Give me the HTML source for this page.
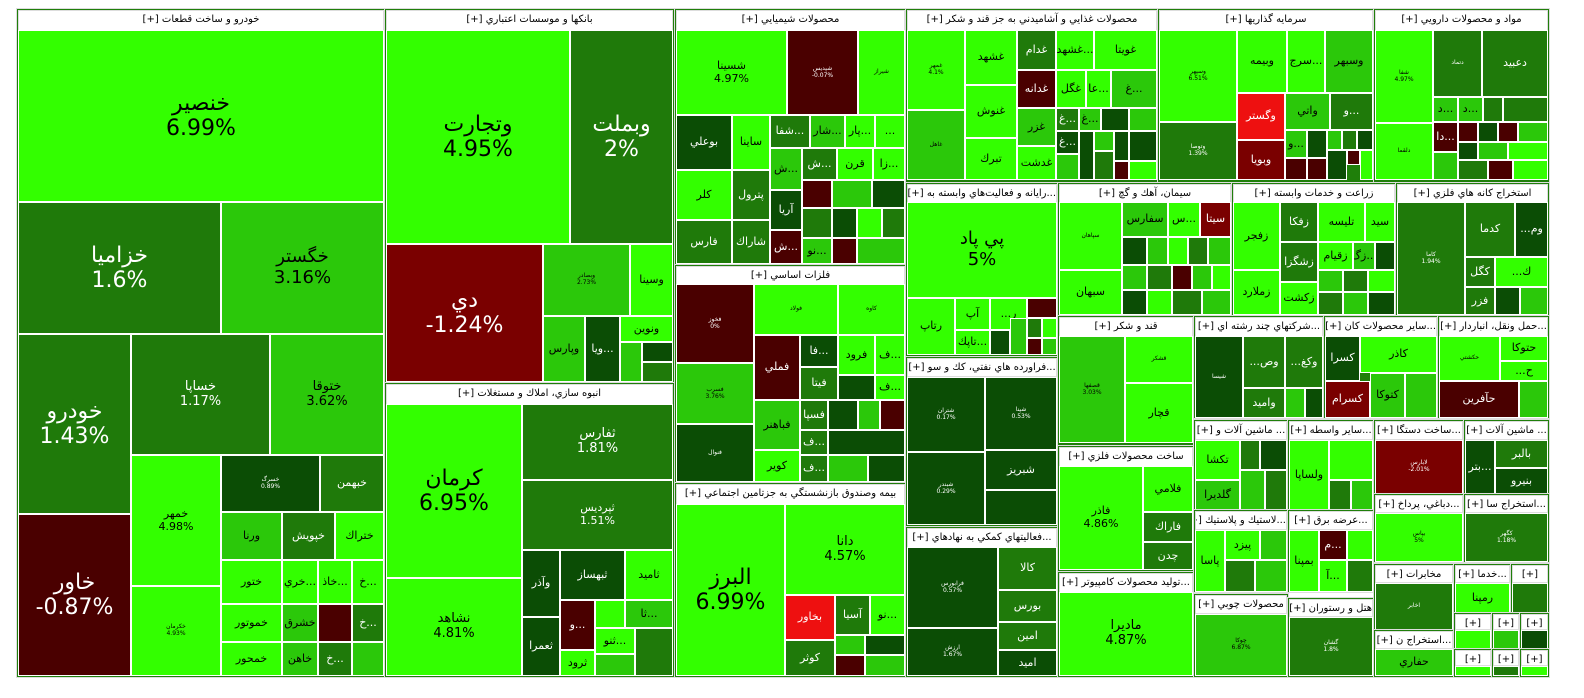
<!DOCTYPE html>
<html><head><meta charset="utf-8">
<style>
body{margin:0;background:#fff;width:1584px;height:698px;position:relative;overflow:hidden;font-family:"DejaVu Sans","Liberation Sans",sans-serif}
.t{position:absolute;box-sizing:border-box;border:1px solid #fff;display:flex;flex-direction:column;align-items:center;justify-content:center;text-align:center;overflow:hidden;line-height:1.15;color:#000;font-size:11px;white-space:nowrap}
.h{position:absolute;box-sizing:border-box;background:#fff;font-size:10px;text-align:center;border:1px solid #ddd;line-height:18px;overflow:hidden;white-space:nowrap;direction:rtl}
.s{position:absolute;box-sizing:border-box;border:1px solid #ddd;background:#1f7f0a}
.A{background:#33ff00}.B{background:#2bc80a;}.C{background:#1f7a0a;color:#fff}.D{background:#0b4d05;color:#fff}.R{background:#4a0000;color:#fff}.M{background:#7a0000;color:#fff}.E{background:#ee1010;color:#fff}
.x{font-size:22px}.y{font-size:18px}.z{font-size:13px}.w{font-size:6px}
</style></head><body>
<!-- sector backgrounds -->
<div class="s" style="left:16px;top:8px;width:370px;height:670px"></div>
<div class="s" style="left:384px;top:8px;width:291px;height:376px"></div>
<div class="s" style="left:384px;top:382px;width:291px;height:296px"></div>
<div class="s" style="left:674px;top:8px;width:233px;height:258px"></div>
<div class="s" style="left:674px;top:264px;width:233px;height:220px"></div>
<div class="s" style="left:674px;top:482px;width:233px;height:196px"></div>
<div class="s" style="left:905px;top:8px;width:254px;height:176px"></div>
<div class="s" style="left:1157px;top:8px;width:218px;height:176px"></div>
<div class="s" style="left:1373px;top:8px;width:177px;height:176px"></div>
<div class="s" style="left:905px;top:182px;width:154px;height:176px"></div>
<div class="s" style="left:905px;top:356px;width:154px;height:172px"></div>
<div class="s" style="left:905px;top:526px;width:154px;height:152px"></div>
<div class="s" style="left:1057px;top:182px;width:176px;height:137px"></div>
<div class="s" style="left:1231px;top:182px;width:166px;height:137px"></div>
<div class="s" style="left:1395px;top:182px;width:155px;height:137px"></div>
<div class="s" style="left:1057px;top:315px;width:138px;height:134px"></div>
<div class="s" style="left:1057px;top:445px;width:138px;height:130px"></div>
<div class="s" style="left:1057px;top:571px;width:138px;height:107px"></div>
<div class="s" style="left:1193px;top:315px;width:132px;height:104px"></div>
<div class="s" style="left:1323px;top:315px;width:116px;height:104px"></div>
<div class="s" style="left:1437px;top:315px;width:113px;height:104px"></div>

<!-- خودرو -->
<div class="h" style="left:18px;top:10px;width:366px;height:21px">خودرو و ساخت قطعات [+]</div>
<div class="t A x" style="left:18px;top:30px;width:366px;height:172px">خنصير<br>6.99%</div>
<div class="t C x" style="left:18px;top:202px;width:203px;height:132px">خزاميا<br>1.6%</div>
<div class="t B y" style="left:221px;top:202px;width:163px;height:132px">خگستر<br>3.16%</div>
<div class="t C x" style="left:18px;top:334px;width:113px;height:180px">خودرو<br>1.43%</div>
<div class="t R x" style="left:18px;top:514px;width:113px;height:162px">خاور<br>-0.87%</div>
<div class="t C z" style="left:131px;top:334px;width:139px;height:121px">خساپا<br>1.17%</div>
<div class="t B z" style="left:270px;top:334px;width:114px;height:121px">ختوقا<br>3.62%</div>
<div class="t A" style="left:131px;top:455px;width:90px;height:131px">خمهر<br>4.98%</div>
<div class="t A w" style="left:131px;top:586px;width:90px;height:90px">خكرمان<br>4.93%</div>
<div class="t D w" style="left:221px;top:455px;width:99px;height:57px">خسرگ<br>0.89%</div>
<div class="t C" style="left:320px;top:455px;width:64px;height:57px">خبهمن</div>
<div class="t B" style="left:221px;top:512px;width:61px;height:48px">ورنا</div>
<div class="t C" style="left:282px;top:512px;width:53px;height:48px">خپويش</div>
<div class="t A" style="left:335px;top:512px;width:49px;height:48px">ختراك</div>
<div class="t A" style="left:221px;top:560px;width:61px;height:44px">ختور</div>
<div class="t A" style="left:282px;top:560px;width:36px;height:44px">خري...</div>
<div class="t A" style="left:318px;top:560px;width:34px;height:44px">خاذ...</div>
<div class="t A" style="left:352px;top:560px;width:32px;height:44px">خ...</div>
<div class="t A" style="left:221px;top:604px;width:61px;height:38px">خموتور</div>
<div class="t B" style="left:282px;top:604px;width:36px;height:38px">خشرق</div>
<div class="t R" style="left:318px;top:604px;width:34px;height:38px"></div>
<div class="t C" style="left:352px;top:604px;width:32px;height:38px">خ...</div>
<div class="t A" style="left:221px;top:642px;width:61px;height:34px">خمحور</div>
<div class="t B" style="left:282px;top:642px;width:36px;height:34px">خاهن</div>
<div class="t C" style="left:318px;top:642px;width:34px;height:34px">خ...</div>
<div class="t B" style="left:352px;top:642px;width:32px;height:34px"></div>

<!-- بانكها -->
<div class="h" style="left:386px;top:10px;width:287px;height:21px">بانكها و موسسات اعتباري [+]</div>
<div class="t A x" style="left:386px;top:30px;width:184px;height:214px">وتجارت<br>4.95%</div>
<div class="t C x" style="left:570px;top:30px;width:103px;height:214px">وبملت<br>2%</div>
<div class="t M x" style="left:386px;top:244px;width:157px;height:138px">دي<br>-1.24%</div>
<div class="t B w" style="left:543px;top:244px;width:87px;height:72px">وبصادر<br>2.73%</div>
<div class="t A" style="left:630px;top:244px;width:43px;height:72px">وسينا</div>
<div class="t B" style="left:543px;top:316px;width:42px;height:66px">وپارس</div>
<div class="t D" style="left:585px;top:316px;width:35px;height:66px">ويا...</div>
<div class="t A" style="left:620px;top:316px;width:53px;height:26px">ونوين</div>
<div class="t B" style="left:620px;top:342px;width:22px;height:40px"></div>
<div class="t D" style="left:642px;top:342px;width:31px;height:20px"></div>
<div class="t C" style="left:642px;top:362px;width:31px;height:20px"></div>

<!-- انبوه سازي -->
<div class="h" style="left:386px;top:384px;width:287px;height:21px">انبوه سازي، املاك و مستغلات [+]</div>
<div class="t A x" style="left:386px;top:404px;width:136px;height:174px">كرمان<br>6.95%</div>
<div class="t A z" style="left:386px;top:578px;width:136px;height:98px">نشاهد<br>4.81%</div>
<div class="t C z" style="left:522px;top:404px;width:151px;height:76px">ثفارس<br>1.81%</div>
<div class="t C" style="left:522px;top:480px;width:151px;height:70px">ثپرديس<br>1.51%</div>
<div class="t D" style="left:522px;top:550px;width:38px;height:67px">وآذر</div>
<div class="t D" style="left:560px;top:550px;width:65px;height:50px">ثبهساز</div>
<div class="t A" style="left:625px;top:550px;width:48px;height:50px">ثاميد</div>
<div class="t D" style="left:522px;top:617px;width:38px;height:59px">ثعمرا</div>
<div class="t R" style="left:560px;top:600px;width:35px;height:50px">و...</div>
<div class="t A" style="left:595px;top:600px;width:30px;height:28px"></div>
<div class="t B" style="left:625px;top:600px;width:48px;height:28px">ثا...</div>
<div class="t A" style="left:560px;top:650px;width:35px;height:26px">ثرود</div>
<div class="t A" style="left:595px;top:628px;width:40px;height:26px">ثنو...</div>
<div class="t C" style="left:635px;top:628px;width:38px;height:48px"></div>
<div class="t B" style="left:595px;top:654px;width:40px;height:22px"></div>

<!-- شيميايي -->
<div class="h" style="left:676px;top:10px;width:229px;height:21px">محصولات شيميايي [+]</div>
<div class="t A" style="left:676px;top:30px;width:111px;height:85px">شسينا<br>4.97%</div>
<div class="t R w" style="left:787px;top:30px;width:71px;height:85px">شپديس<br>-0.07%</div>
<div class="t A w" style="left:858px;top:30px;width:47px;height:85px">شيراز</div>
<div class="t D" style="left:676px;top:115px;width:56px;height:55px">بوعلي</div>
<div class="t A" style="left:732px;top:115px;width:38px;height:55px">ساينا</div>
<div class="t C" style="left:770px;top:115px;width:40px;height:33px">شفا...</div>
<div class="t B" style="left:810px;top:115px;width:35px;height:33px">شار...</div>
<div class="t A" style="left:845px;top:115px;width:30px;height:33px">پار...</div>
<div class="t A" style="left:875px;top:115px;width:30px;height:33px">...</div>
<div class="t A" style="left:676px;top:170px;width:56px;height:50px">كلر</div>
<div class="t C" style="left:732px;top:170px;width:38px;height:50px">پترول</div>
<div class="t B" style="left:770px;top:148px;width:32px;height:42px">ش...</div>
<div class="t C" style="left:802px;top:148px;width:35px;height:32px">ش...</div>
<div class="t A" style="left:837px;top:148px;width:36px;height:32px">قرن</div>
<div class="t A" style="left:873px;top:148px;width:32px;height:32px">زا...</div>
<div class="t C" style="left:676px;top:220px;width:56px;height:44px">فارس</div>
<div class="t C" style="left:732px;top:220px;width:38px;height:44px">شاراك</div>
<div class="t D" style="left:770px;top:190px;width:32px;height:40px">آريا</div>
<div class="t R" style="left:770px;top:230px;width:32px;height:34px">ش...</div>
<div class="t R" style="left:802px;top:180px;width:30px;height:28px"></div>
<div class="t B" style="left:832px;top:180px;width:40px;height:28px"></div>
<div class="t D" style="left:872px;top:180px;width:33px;height:28px"></div>
<div class="t C" style="left:802px;top:208px;width:30px;height:30px"></div>
<div class="t D" style="left:832px;top:208px;width:25px;height:30px"></div>
<div class="t A" style="left:857px;top:208px;width:25px;height:30px"></div>
<div class="t C" style="left:882px;top:208px;width:23px;height:30px"></div>
<div class="t B" style="left:802px;top:238px;width:30px;height:26px">نو...</div>
<div class="t R" style="left:832px;top:238px;width:25px;height:26px"></div>
<div class="t B" style="left:857px;top:238px;width:48px;height:26px"></div>

<!-- فلزات -->
<div class="h" style="left:676px;top:266px;width:229px;height:19px">فلزات اساسي [+]</div>
<div class="t R w" style="left:676px;top:284px;width:78px;height:79px">فخوز<br>0%</div>
<div class="t A w" style="left:754px;top:284px;width:84px;height:51px">فولاد</div>
<div class="t A w" style="left:838px;top:284px;width:67px;height:51px">كاوه</div>
<div class="t B w" style="left:676px;top:363px;width:78px;height:61px">فسرب<br>3.76%</div>
<div class="t D w" style="left:676px;top:424px;width:78px;height:58px">فنوال</div>
<div class="t R" style="left:754px;top:335px;width:46px;height:65px">فملي</div>
<div class="t D" style="left:800px;top:335px;width:38px;height:32px">فا...</div>
<div class="t A" style="left:838px;top:335px;width:37px;height:40px">فرود</div>
<div class="t A" style="left:875px;top:335px;width:30px;height:40px">ف...</div>
<div class="t C" style="left:800px;top:367px;width:38px;height:33px">فيتا</div>
<div class="t D" style="left:838px;top:375px;width:37px;height:25px"></div>
<div class="t A" style="left:875px;top:375px;width:30px;height:25px">ف...</div>
<div class="t B" style="left:754px;top:400px;width:46px;height:50px">فباهنر</div>
<div class="t C" style="left:800px;top:400px;width:28px;height:30px">فسپا</div>
<div class="t D" style="left:828px;top:400px;width:30px;height:30px"></div>
<div class="t B" style="left:858px;top:400px;width:22px;height:30px"></div>
<div class="t R" style="left:880px;top:400px;width:25px;height:30px"></div>
<div class="t A" style="left:754px;top:450px;width:46px;height:32px">كوير</div>
<div class="t C" style="left:800px;top:430px;width:28px;height:25px">ف...</div>
<div class="t D" style="left:828px;top:430px;width:77px;height:25px"></div>
<div class="t C" style="left:800px;top:455px;width:28px;height:27px">ف...</div>
<div class="t B" style="left:828px;top:455px;width:40px;height:27px"></div>
<div class="t D" style="left:868px;top:455px;width:37px;height:27px"></div>

<!-- بيمه -->
<div class="h" style="left:676px;top:484px;width:229px;height:21px">بيمه وصندوق بازنشستگي به جزتامين اجتماعي [+]</div>
<div class="t A x" style="left:676px;top:504px;width:109px;height:172px">البرز<br>6.99%</div>
<div class="t A z" style="left:785px;top:504px;width:120px;height:91px">دانا<br>4.57%</div>
<div class="t E" style="left:785px;top:595px;width:50px;height:45px">بخاور</div>
<div class="t C" style="left:835px;top:595px;width:35px;height:40px">آسيا</div>
<div class="t A" style="left:870px;top:595px;width:35px;height:40px">نو...</div>
<div class="t C" style="left:785px;top:640px;width:50px;height:36px">كوثر</div>
<div class="t B" style="left:835px;top:635px;width:30px;height:20px"></div>
<div class="t D" style="left:865px;top:635px;width:40px;height:20px"></div>
<div class="t R" style="left:835px;top:655px;width:30px;height:21px"></div>
<div class="t B" style="left:865px;top:655px;width:40px;height:21px"></div>

<!-- غذايي -->
<div class="h" style="left:907px;top:10px;width:250px;height:21px">محصولات غذايي و آشاميدني به جز قند و شكر [+]</div>
<div class="t A w" style="left:907px;top:30px;width:58px;height:80px">غمهر<br>4.1%</div>
<div class="t B w" style="left:907px;top:110px;width:58px;height:70px">غاهل</div>
<div class="t A" style="left:965px;top:30px;width:52px;height:55px">غشهد</div>
<div class="t A" style="left:965px;top:85px;width:52px;height:53px">غنوش</div>
<div class="t A" style="left:965px;top:138px;width:52px;height:42px">تبرك</div>
<div class="t C" style="left:1017px;top:30px;width:39px;height:40px">غدام</div>
<div class="t R" style="left:1017px;top:70px;width:39px;height:38px">غدانه</div>
<div class="t B" style="left:1017px;top:108px;width:39px;height:38px">غزر</div>
<div class="t A" style="left:1017px;top:146px;width:39px;height:34px">غدشت</div>
<div class="t A" style="left:1056px;top:30px;width:38px;height:40px">غشهد...</div>
<div class="t A" style="left:1094px;top:30px;width:63px;height:40px">غويتا</div>
<div class="t A" style="left:1056px;top:70px;width:30px;height:38px">غگل</div>
<div class="t A" style="left:1086px;top:70px;width:25px;height:38px">عا...</div>
<div class="t B" style="left:1111px;top:70px;width:46px;height:38px">غ...</div>
<div class="t C" style="left:1056px;top:108px;width:23px;height:23px">غ...</div>
<div class="t B" style="left:1079px;top:108px;width:22px;height:23px">غ...</div>
<div class="t D" style="left:1101px;top:108px;width:28px;height:23px"></div>
<div class="t B" style="left:1129px;top:108px;width:28px;height:23px"></div>
<div class="t D" style="left:1056px;top:131px;width:23px;height:23px">غ...</div>
<div class="t B" style="left:1056px;top:154px;width:23px;height:26px"></div>
<div class="t D" style="left:1079px;top:131px;width:15px;height:49px"></div>
<div class="t B" style="left:1094px;top:131px;width:20px;height:20px"></div>
<div class="t D" style="left:1114px;top:131px;width:15px;height:30px"></div>
<div class="t D" style="left:1129px;top:131px;width:28px;height:30px"></div>
<div class="t C" style="left:1094px;top:151px;width:20px;height:29px"></div>
<div class="t R" style="left:1114px;top:161px;width:15px;height:19px"></div>
<div class="t A" style="left:1129px;top:161px;width:28px;height:19px"></div>

<!-- سرمايه گذاريها -->
<div class="h" style="left:1159px;top:10px;width:214px;height:21px">سرمايه گذاريها [+]</div>
<div class="t A w" style="left:1159px;top:30px;width:78px;height:92px">وسپهر<br>6.51%</div>
<div class="t C w" style="left:1159px;top:122px;width:78px;height:58px">وتوصا<br>1.39%</div>
<div class="t A" style="left:1237px;top:30px;width:50px;height:63px">وبيمه</div>
<div class="t A" style="left:1287px;top:30px;width:38px;height:63px">سرج...</div>
<div class="t B" style="left:1325px;top:30px;width:48px;height:63px">وسبهر</div>
<div class="t E" style="left:1237px;top:93px;width:48px;height:47px">وگستر</div>
<div class="t B" style="left:1285px;top:93px;width:45px;height:37px">واتي</div>
<div class="t C" style="left:1330px;top:93px;width:43px;height:37px">و...</div>
<div class="t M" style="left:1237px;top:140px;width:48px;height:40px">وبويا</div>
<div class="t B" style="left:1285px;top:130px;width:22px;height:28px">و...</div>
<div class="t D" style="left:1307px;top:130px;width:20px;height:28px"></div>
<div class="t R" style="left:1285px;top:158px;width:22px;height:22px"></div>
<div class="t R" style="left:1307px;top:158px;width:20px;height:22px"></div>
<div class="t B" style="left:1327px;top:130px;width:15px;height:20px"></div>
<div class="t C" style="left:1342px;top:130px;width:15px;height:20px"></div>
<div class="t D" style="left:1357px;top:130px;width:16px;height:20px"></div>
<div class="t D" style="left:1327px;top:150px;width:20px;height:30px"></div>
<div class="t R" style="left:1347px;top:150px;width:13px;height:15px"></div>
<div class="t A" style="left:1360px;top:150px;width:13px;height:30px"></div>

<!-- دارويي -->
<div class="h" style="left:1375px;top:10px;width:173px;height:21px">مواد و محصولات دارويي [+]</div>
<div class="t A w" style="left:1375px;top:30px;width:58px;height:93px">شفا<br>4.97%</div>
<div class="t A w" style="left:1375px;top:123px;width:58px;height:57px">دلقما</div>
<div class="t C w" style="left:1433px;top:30px;width:49px;height:67px">دتماد</div>
<div class="t C" style="left:1482px;top:30px;width:66px;height:67px">دعبيد</div>
<div class="t B" style="left:1433px;top:97px;width:25px;height:25px">د...</div>
<div class="t B" style="left:1458px;top:97px;width:25px;height:25px">د...</div>
<div class="t C" style="left:1483px;top:97px;width:20px;height:25px"></div>
<div class="t C" style="left:1503px;top:97px;width:45px;height:25px"></div>
<div class="t R" style="left:1433px;top:122px;width:25px;height:30px">دا...</div>
<div class="t B" style="left:1433px;top:152px;width:25px;height:28px"></div>
<div class="t R" style="left:1458px;top:122px;width:20px;height:20px"></div>
<div class="t D" style="left:1478px;top:122px;width:20px;height:20px"></div>
<div class="t R" style="left:1498px;top:122px;width:20px;height:20px"></div>
<div class="t B" style="left:1518px;top:122px;width:30px;height:20px"></div>
<div class="t D" style="left:1458px;top:142px;width:20px;height:18px"></div>
<div class="t B" style="left:1478px;top:142px;width:30px;height:18px"></div>
<div class="t A" style="left:1508px;top:142px;width:40px;height:18px"></div>
<div class="t C" style="left:1458px;top:160px;width:30px;height:20px"></div>
<div class="t R" style="left:1488px;top:160px;width:25px;height:20px"></div>
<div class="t A" style="left:1513px;top:160px;width:35px;height:20px"></div>

<!-- رايانه -->
<div class="h" style="left:907px;top:184px;width:150px;height:19px">...رايانه و فعاليت‌هاي وابسته به [+]</div>
<div class="t A y" style="left:907px;top:202px;width:150px;height:96px">پي پاد<br>5%</div>
<div class="t A" style="left:907px;top:298px;width:48px;height:57px">رتاپ</div>
<div class="t A" style="left:955px;top:298px;width:35px;height:32px">آپ</div>
<div class="t A" style="left:955px;top:330px;width:35px;height:25px">تاپك...</div>
<div class="t A" style="left:990px;top:298px;width:37px;height:32px">...ر</div>
<div class="t R" style="left:1027px;top:298px;width:30px;height:20px"></div>
<div class="t D" style="left:990px;top:330px;width:20px;height:25px"></div>
<div class="t B" style="left:1010px;top:318px;width:17px;height:37px"></div>
<div class="t C" style="left:1027px;top:318px;width:15px;height:20px"></div>
<div class="t A" style="left:1042px;top:318px;width:15px;height:20px"></div>
<div class="t R" style="left:1027px;top:338px;width:15px;height:17px"></div>
<div class="t B" style="left:1042px;top:338px;width:15px;height:17px"></div>

<!-- نفتي -->
<div class="h" style="left:907px;top:358px;width:150px;height:19px">...فراورده هاي نفتي، كك و سو [+]</div>
<div class="t D w" style="left:907px;top:377px;width:78px;height:75px">شتران<br>0.17%</div>
<div class="t D w" style="left:907px;top:452px;width:78px;height:73px">شبندر<br>0.29%</div>
<div class="t D w" style="left:985px;top:377px;width:72px;height:73px">شپنا<br>0.53%</div>
<div class="t D" style="left:985px;top:450px;width:72px;height:40px">شبريز</div>
<div class="t D" style="left:985px;top:490px;width:72px;height:35px"></div>

<!-- كمكي -->
<div class="h" style="left:907px;top:528px;width:150px;height:20px">...فعاليتهاي كمكي به نهادهاي [+]</div>
<div class="t D w" style="left:907px;top:547px;width:91px;height:81px">فرابورس<br>0.57%</div>
<div class="t D w" style="left:907px;top:628px;width:91px;height:48px">ارزش<br>1.67%</div>
<div class="t C" style="left:998px;top:547px;width:59px;height:43px">كالا</div>
<div class="t C" style="left:998px;top:590px;width:59px;height:32px">بورس</div>
<div class="t C" style="left:998px;top:622px;width:59px;height:28px">امين</div>
<div class="t D" style="left:998px;top:650px;width:59px;height:26px">اميد</div>

<!-- سيمان -->
<div class="h" style="left:1059px;top:184px;width:172px;height:19px">سيمان، آهك و گچ [+]</div>
<div class="t A w" style="left:1059px;top:202px;width:63px;height:68px">سپاهان</div>
<div class="t A" style="left:1059px;top:270px;width:63px;height:45px">سبهان</div>
<div class="t B" style="left:1122px;top:202px;width:46px;height:35px">سفارس</div>
<div class="t A" style="left:1168px;top:202px;width:32px;height:35px">س...</div>
<div class="t M" style="left:1200px;top:202px;width:31px;height:35px">سيتا</div>
<div class="t D" style="left:1122px;top:237px;width:25px;height:28px"></div>
<div class="t B" style="left:1147px;top:237px;width:21px;height:28px"></div>
<div class="t A" style="left:1168px;top:237px;width:20px;height:28px"></div>
<div class="t C" style="left:1188px;top:237px;width:20px;height:28px"></div>
<div class="t B" style="left:1208px;top:237px;width:23px;height:28px"></div>
<div class="t B" style="left:1122px;top:265px;width:25px;height:25px"></div>
<div class="t C" style="left:1147px;top:265px;width:25px;height:25px"></div>
<div class="t R" style="left:1172px;top:265px;width:20px;height:25px"></div>
<div class="t B" style="left:1192px;top:265px;width:20px;height:25px"></div>
<div class="t A" style="left:1212px;top:265px;width:19px;height:25px"></div>
<div class="t D" style="left:1122px;top:290px;width:25px;height:25px"></div>
<div class="t A" style="left:1147px;top:290px;width:25px;height:25px"></div>
<div class="t C" style="left:1172px;top:290px;width:30px;height:25px"></div>
<div class="t B" style="left:1202px;top:290px;width:29px;height:25px"></div>

<!-- زراعت -->
<div class="h" style="left:1233px;top:184px;width:162px;height:19px">زراعت و خدمات وابسته [+]</div>
<div class="t A" style="left:1233px;top:202px;width:47px;height:68px">زفجر</div>
<div class="t A" style="left:1233px;top:270px;width:47px;height:45px">زملارد</div>
<div class="t C" style="left:1280px;top:202px;width:38px;height:40px">زفكا</div>
<div class="t A" style="left:1318px;top:202px;width:47px;height:40px">تليسه</div>
<div class="t A" style="left:1365px;top:202px;width:30px;height:40px">سيد</div>
<div class="t C" style="left:1280px;top:242px;width:38px;height:40px">زشگزا</div>
<div class="t A" style="left:1280px;top:282px;width:38px;height:33px">زكشت</div>
<div class="t A" style="left:1318px;top:242px;width:35px;height:28px">زقيام</div>
<div class="t B" style="left:1353px;top:242px;width:22px;height:28px">زگ...</div>
<div class="t D" style="left:1375px;top:242px;width:20px;height:28px"></div>
<div class="t B" style="left:1318px;top:270px;width:25px;height:22px"></div>
<div class="t C" style="left:1343px;top:270px;width:25px;height:22px"></div>
<div class="t A" style="left:1368px;top:270px;width:27px;height:22px"></div>
<div class="t C" style="left:1318px;top:292px;width:25px;height:23px"></div>
<div class="t B" style="left:1343px;top:292px;width:25px;height:23px"></div>
<div class="t D" style="left:1368px;top:292px;width:27px;height:23px"></div>

<!-- كانه -->
<div class="h" style="left:1397px;top:184px;width:151px;height:19px">استخراج كانه هاي فلزي [+]</div>
<div class="t C w" style="left:1397px;top:202px;width:68px;height:113px">كاما<br>1.94%</div>
<div class="t C" style="left:1465px;top:202px;width:50px;height:55px">كدما</div>
<div class="t D" style="left:1515px;top:202px;width:33px;height:55px">...وم</div>
<div class="t C" style="left:1465px;top:257px;width:30px;height:30px">كگل</div>
<div class="t A" style="left:1495px;top:257px;width:53px;height:30px">...ك</div>
<div class="t C" style="left:1465px;top:287px;width:30px;height:28px">فزر</div>
<div class="t D" style="left:1495px;top:287px;width:25px;height:28px"></div>
<div class="t B" style="left:1520px;top:287px;width:28px;height:28px"></div>

<!-- قند -->
<div class="h" style="left:1059px;top:317px;width:134px;height:20px">قند و شكر [+]</div>
<div class="t B w" style="left:1059px;top:336px;width:66px;height:107px">قصفها<br>3.03%</div>
<div class="t A w" style="left:1125px;top:336px;width:68px;height:47px">قشكر</div>
<div class="t A" style="left:1125px;top:383px;width:68px;height:60px">قچار</div>

<!-- فلزي -->
<div class="h" style="left:1059px;top:447px;width:134px;height:20px">ساخت محصولات فلزي [+]</div>
<div class="t A" style="left:1059px;top:466px;width:84px;height:104px">فاذر<br>4.86%</div>
<div class="t A" style="left:1143px;top:466px;width:50px;height:46px">فلامي</div>
<div class="t C" style="left:1143px;top:512px;width:50px;height:30px">فاراك</div>
<div class="t C" style="left:1143px;top:542px;width:50px;height:28px">چدن</div>

<!-- كامپيوتر -->
<div class="h" style="left:1059px;top:573px;width:134px;height:20px">...توليد محصولات كامپيوتر [+]</div>
<div class="t A z" style="left:1059px;top:592px;width:134px;height:84px">ماديرا<br>4.87%</div>

<!-- چند رشته -->
<div class="h" style="left:1195px;top:317px;width:128px;height:20px">...شركتهاي چند رشته اي [+]</div>
<div class="t D w" style="left:1195px;top:336px;width:48px;height:82px">شيسا</div>
<div class="t C" style="left:1243px;top:336px;width:42px;height:52px">...وص</div>
<div class="t C" style="left:1285px;top:336px;width:38px;height:52px">...وكغ</div>
<div class="t C" style="left:1243px;top:388px;width:42px;height:30px">واميد</div>
<div class="t B" style="left:1285px;top:388px;width:20px;height:30px"></div>
<div class="t D" style="left:1305px;top:388px;width:18px;height:30px"></div>

<!-- كاني -->
<div class="h" style="left:1325px;top:317px;width:112px;height:20px">...ساير محصولات كان [+]</div>
<div class="t D" style="left:1325px;top:336px;width:35px;height:45px">كسرا</div>
<div class="t M" style="left:1325px;top:381px;width:45px;height:37px">كسرام</div>
<div class="t A" style="left:1360px;top:336px;width:77px;height:37px">كاذر</div>
<div class="t B" style="left:1370px;top:373px;width:35px;height:45px">كتوكا</div>
<div class="t B" style="left:1405px;top:373px;width:32px;height:45px"></div>

<!-- حمل -->
<div class="h" style="left:1439px;top:317px;width:109px;height:20px">...حمل ونقل، انباردار [+]</div>
<div class="t A w" style="left:1439px;top:336px;width:61px;height:45px">حكشتي</div>
<div class="t A" style="left:1500px;top:336px;width:48px;height:25px">حتوكا</div>
<div class="t A" style="left:1500px;top:361px;width:48px;height:20px">...ح</div>
<div class="t R" style="left:1439px;top:381px;width:80px;height:37px">حآفرين</div>
<div class="t B" style="left:1519px;top:381px;width:29px;height:37px"></div>

<!-- lower right small sectors -->
<div class="s" style="left:1193px;top:419px;width:96px;height:92px"></div>
<div class="h" style="left:1195px;top:421px;width:92px;height:19px">... ماشين آلات و [+]</div>
<div class="t A" style="left:1195px;top:440px;width:45px;height:40px">تكشا</div>
<div class="t B" style="left:1195px;top:480px;width:45px;height:30px">گلديرا</div>
<div class="t C" style="left:1240px;top:440px;width:20px;height:30px"></div>
<div class="t D" style="left:1260px;top:440px;width:27px;height:30px"></div>
<div class="t B" style="left:1240px;top:470px;width:25px;height:40px"></div>
<div class="t C" style="left:1265px;top:470px;width:22px;height:40px"></div>

<div class="s" style="left:1287px;top:419px;width:88px;height:92px"></div>
<div class="h" style="left:1289px;top:421px;width:84px;height:19px">...ساير واسطه [+]</div>
<div class="t A" style="left:1289px;top:440px;width:40px;height:70px">ولساپا</div>
<div class="t A" style="left:1329px;top:440px;width:44px;height:40px"></div>
<div class="t C" style="left:1329px;top:480px;width:22px;height:30px"></div>
<div class="t B" style="left:1351px;top:480px;width:22px;height:30px"></div>

<div class="s" style="left:1373px;top:419px;width:92px;height:76px"></div>
<div class="h" style="left:1375px;top:421px;width:88px;height:19px">...ساخت دستگا [+]</div>
<div class="t M w" style="left:1375px;top:440px;width:88px;height:54px">لابارس<br>-2.01%</div>

<div class="s" style="left:1463px;top:419px;width:87px;height:76px"></div>
<div class="h" style="left:1465px;top:421px;width:83px;height:19px">... ماشين آلات [+]</div>
<div class="t D" style="left:1465px;top:440px;width:30px;height:54px">بتر...</div>
<div class="t C" style="left:1495px;top:440px;width:53px;height:28px">بالبر</div>
<div class="t D" style="left:1495px;top:468px;width:53px;height:26px">بنيرو</div>

<div class="s" style="left:1193px;top:509px;width:96px;height:84px"></div>
<div class="h" style="left:1195px;top:511px;width:92px;height:19px">...لاستيك و پلاستيك [+]</div>
<div class="t A" style="left:1195px;top:530px;width:30px;height:62px">پاسا</div>
<div class="t A" style="left:1225px;top:530px;width:35px;height:30px">پيزد</div>
<div class="t B" style="left:1260px;top:530px;width:27px;height:30px"></div>
<div class="t C" style="left:1225px;top:560px;width:30px;height:32px"></div>
<div class="t B" style="left:1255px;top:560px;width:32px;height:32px"></div>

<div class="s" style="left:1287px;top:509px;width:88px;height:84px"></div>
<div class="h" style="left:1289px;top:511px;width:84px;height:19px">...عرضه برق [+]</div>
<div class="t A" style="left:1289px;top:530px;width:30px;height:62px">بمپنا</div>
<div class="t R" style="left:1319px;top:530px;width:28px;height:30px">م...</div>
<div class="t A" style="left:1347px;top:530px;width:26px;height:30px"></div>
<div class="t A" style="left:1319px;top:560px;width:28px;height:32px">آ...</div>
<div class="t C" style="left:1347px;top:560px;width:26px;height:32px"></div>

<div class="s" style="left:1373px;top:493px;width:92px;height:70px"></div>
<div class="h" style="left:1375px;top:495px;width:88px;height:18px">...دباغي، پرداخ [+]</div>
<div class="t A w" style="left:1375px;top:513px;width:88px;height:49px">بپاس<br>5%</div>

<div class="s" style="left:1463px;top:493px;width:87px;height:70px"></div>
<div class="h" style="left:1465px;top:495px;width:83px;height:18px">...استخراج سا [+]</div>
<div class="t C w" style="left:1465px;top:513px;width:83px;height:49px">كگهر<br>1.18%</div>

<div class="s" style="left:1193px;top:593px;width:96px;height:85px"></div>
<div class="h" style="left:1195px;top:595px;width:92px;height:19px">محصولات چوبي [+]</div>
<div class="t B w" style="left:1195px;top:614px;width:92px;height:62px">چوكا<br>6.87%</div>

<div class="s" style="left:1287px;top:597px;width:88px;height:81px"></div>
<div class="h" style="left:1289px;top:599px;width:84px;height:18px">هتل و رستوران [+]</div>
<div class="t C w" style="left:1289px;top:617px;width:84px;height:59px">گشان<br>1.8%</div>

<div class="s" style="left:1373px;top:563px;width:82px;height:68px"></div>
<div class="h" style="left:1375px;top:565px;width:78px;height:18px">مخابرات [+]</div>
<div class="t C w" style="left:1375px;top:583px;width:78px;height:47px">اخابر</div>
<div class="s" style="left:1453px;top:563px;width:59px;height:52px"></div>
<div class="h" style="left:1455px;top:565px;width:55px;height:18px">...خدما [+]</div>
<div class="t A" style="left:1455px;top:583px;width:55px;height:31px">رمپنا</div>
<div class="s" style="left:1510px;top:563px;width:40px;height:52px"></div>
<div class="h" style="left:1512px;top:565px;width:36px;height:18px">[+]</div>
<div class="t C" style="left:1512px;top:583px;width:36px;height:31px"></div>
<div class="s" style="left:1373px;top:629px;width:82px;height:49px"></div>
<div class="h" style="left:1375px;top:631px;width:78px;height:18px">...استخراج ن [+]</div>
<div class="t B" style="left:1375px;top:649px;width:78px;height:27px">حفاري</div>
<div class="s" style="left:1453px;top:612px;width:40px;height:38px"></div>
<div class="h" style="left:1455px;top:614px;width:36px;height:16px">[+]</div>
<div class="t A" style="left:1455px;top:630px;width:36px;height:19px"></div>
<div class="s" style="left:1491px;top:612px;width:30px;height:38px"></div>
<div class="h" style="left:1493px;top:614px;width:26px;height:16px">[+]</div>
<div class="t B" style="left:1493px;top:630px;width:26px;height:19px"></div>
<div class="s" style="left:1519px;top:612px;width:31px;height:38px"></div>
<div class="h" style="left:1521px;top:614px;width:27px;height:16px">[+]</div>
<div class="t D" style="left:1521px;top:630px;width:27px;height:19px"></div>
<div class="s" style="left:1453px;top:648px;width:40px;height:30px"></div>
<div class="h" style="left:1455px;top:650px;width:36px;height:16px">[+]</div>
<div class="t A" style="left:1455px;top:666px;width:36px;height:10px"></div>
<div class="s" style="left:1491px;top:648px;width:30px;height:30px"></div>
<div class="h" style="left:1493px;top:650px;width:26px;height:16px">[+]</div>
<div class="t C" style="left:1493px;top:666px;width:26px;height:10px"></div>
<div class="s" style="left:1519px;top:648px;width:31px;height:30px"></div>
<div class="h" style="left:1521px;top:650px;width:27px;height:16px">[+]</div>
<div class="t A" style="left:1521px;top:666px;width:27px;height:10px"></div>
</body></html>
